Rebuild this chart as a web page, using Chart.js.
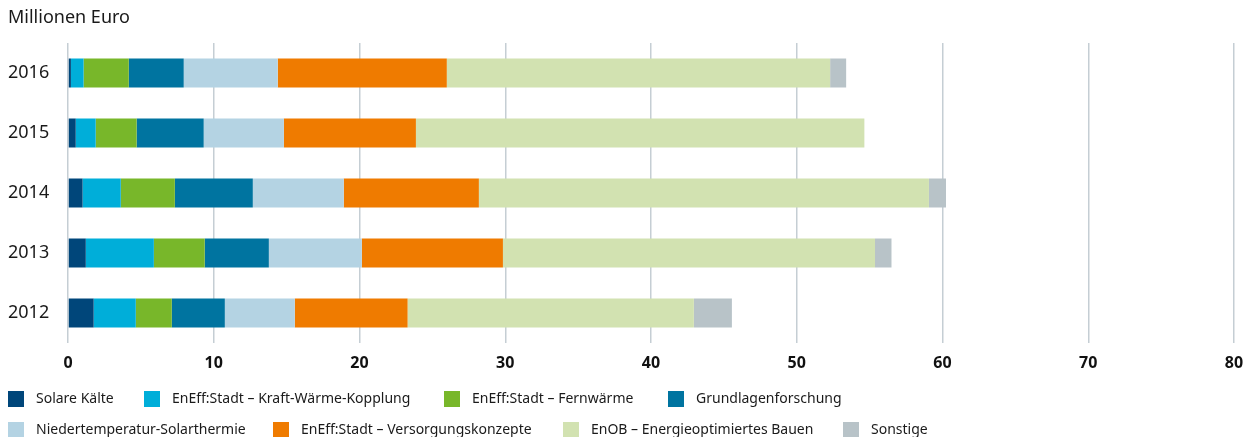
<!DOCTYPE html>
<html>
<head>
<meta charset="utf-8">
<script src="https://cdn.jsdelivr.net/npm/chart.js@4"></script>
<style>
  html, body { margin: 0; padding: 0; background: #fff; }
  body { width: 1251px; height: 437px; position: relative; overflow: hidden; font-family: "Noto Sans", sans-serif; color: #1a1a1a; }
  #title { position: absolute; left: 8px; top: 4px; font-size: 18px; line-height: 24px; }
  #wrap { position: absolute; left: 0; top: 0; width: 1251px; height: 437px; }
  .lg { position: absolute; font-size: 14px; line-height: 16px; white-space: nowrap; }
  .lg span.sq { position: absolute; left: 0; top: 0; width: 16px; height: 16px; }
  .lg span.tx { position: absolute; left: 28px; top: -1px; }
</style>
</head>
<body>
<div id="wrap"><canvas id="c"></canvas></div>
<div id="title">Millionen Euro</div>
<div id="legend"></div>
<script>
// Förderung in Mio. Euro, Reihenfolge der Jahre von oben nach unten
const years = ['2016', '2015', '2014', '2013', '2012'];

const solareKaelte = [0.2, 0.53, 1.0, 1.22, 1.76];
const kraftWaerme  = [0.87, 1.37, 2.62, 4.67, 2.89];
const fernwaerme   = [3.1, 2.81, 3.71, 3.49, 2.47];
const grundlagen   = [3.77, 4.6, 5.35, 4.4, 3.64];
const ntSolar      = [6.45, 5.5, 6.24, 6.38, 4.8];
const versorgung   = [11.6, 9.06, 9.27, 9.68, 7.74];
const enob         = [26.3, 30.77, 30.88, 25.53, 19.64];
const sonstige     = [1.1, 0, 1.17, 1.13, 2.61];

const xTicks = [0, 10, 20, 30, 40, 50, 60, 70, 80];

const series = [
  { label: 'Solare Kälte', data: solareKaelte, color: '#00467a' },
  { label: 'EnEff:Stadt – Kraft-Wärme-Kopplung', data: kraftWaerme, color: '#00aed9' },
  { label: 'EnEff:Stadt – Fernwärme', data: fernwaerme, color: '#78b72a' },
  { label: 'Grundlagenforschung', data: grundlagen, color: '#0074a0' },
  { label: 'Niedertemperatur-Solarthermie', data: ntSolar, color: '#b4d3e3' },
  { label: 'EnEff:Stadt – Versorgungskonzepte', data: versorgung, color: '#ef7b00' },
  { label: 'EnOB – Energieoptimiertes Bauen', data: enob, color: '#d2e2b1' },
  { label: 'Sonstige', data: sonstige, color: '#b8c3c8' }
];

// Legendenpositionen (links, oben) wie im Original
const legendPos = [
  [8, 391], [144, 391], [444, 391], [668, 391],
  [8, 422], [273, 422], [563, 422], [843, 422]
];

const legend = document.getElementById('legend');
series.forEach((s, i) => {
  const el = document.createElement('div');
  el.className = 'lg';
  el.style.left = legendPos[i][0] + 'px';
  el.style.top = legendPos[i][1] + 'px';
  el.innerHTML = '<span class="sq" style="background:' + s.color + '"></span><span class="tx">' + s.label + '</span>';
  legend.appendChild(el);
});

new Chart(document.getElementById('c'), {
  type: 'bar',
  data: {
    labels: years,
    datasets: series.map(s => ({
      label: s.label,
      data: s.data,
      backgroundColor: s.color,
      borderWidth: 0,
      categoryPercentage: 1,
      barPercentage: 29 / 60
    }))
  },
  options: {
    indexAxis: 'y',
    responsive: true,
    maintainAspectRatio: false,
    animation: false,
    layout: { padding: { left: 8, right: 17, top: 43, bottom: 54 } },
    plugins: {
      legend: { display: false },
      tooltip: { enabled: false }
    },
    scales: {
      x: {
        stacked: true,
        min: 0,
        max: 80,
        afterBuildTicks: scale => { scale.ticks = xTicks.map(v => ({ value: v })); },
        afterFit: scale => { scale.height = 40; scale.paddingRight = 0; scale.paddingLeft = 0; },
        grid: { color: '#c5ced4', lineWidth: 1.5, drawTicks: false },
        border: { display: false },
        ticks: {
          padding: 11,
          color: '#111',
          font: { family: 'Noto Sans', size: 16, weight: 'bold' }
        }
      },
      y: {
        stacked: true,
        afterFit: scale => { scale.width = 60; },
        grid: { display: false, drawTicks: false },
        border: { display: false },
        ticks: {
          crossAlign: 'far',
          color: '#1a1a1a',
          font: { family: 'Noto Sans', size: 18 }
        }
      }
    }
  }
});
</script>
</body>
</html>
